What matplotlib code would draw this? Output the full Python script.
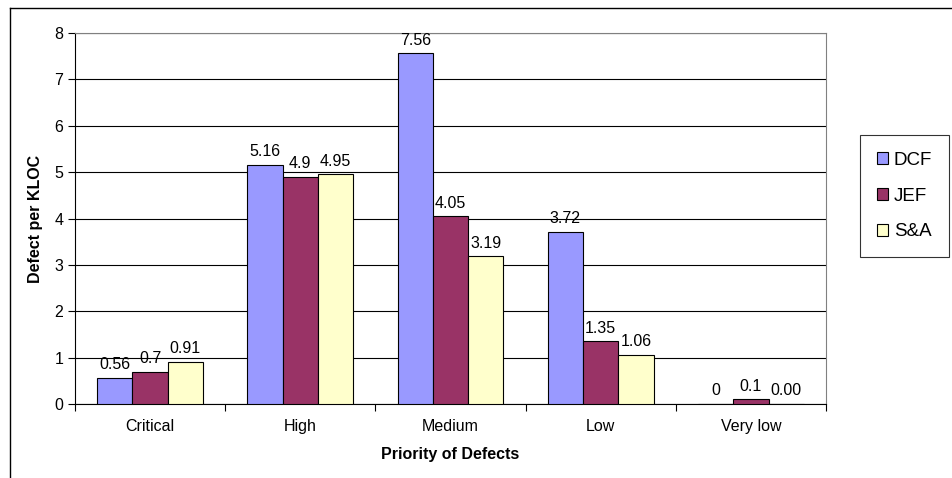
import numpy as np
import matplotlib
matplotlib.use("Agg")
import matplotlib.pyplot as plt
from matplotlib.lines import Line2D

categories = ["Critical", "High", "Medium", "Low", "Very low"]
series = ["DCF", "JEF", "S&A"]
dcf = [0.56, 5.16, 7.56, 3.72, 0.0]
jef = [0.7, 4.9, 4.05, 1.35, 0.1]
sa = [0.91, 4.95, 3.19, 1.06, 0.0]
labels_dcf = ["0.56", "5.16", "7.56", "3.72", "0"]
labels_jef = ["0.7", "4.9", "4.05", "1.35", "0.1"]
labels_sa = ["0.91", "4.95", "3.19", "1.06", "0.00"]
colors = ["#9999FF", "#993366", "#FFFFCC"]

plt.rcParams["font.family"] = ["Liberation Sans", "DejaVu Sans"]

fig = plt.figure(figsize=(9.53, 4.78), dpi=100)
ax = fig.add_axes([0.0787, 0.1548, 0.788, 0.776])

# 外枠（左と上だけ見えている）
fig.add_artist(Line2D([10 / 953, 10 / 953], [0, 1 - 8 / 478], color="black", lw=1.0,
                      transform=fig.transFigure))
fig.add_artist(Line2D([10 / 953, 1], [1 - 8 / 478, 1 - 8 / 478], color="black", lw=1.0,
                      transform=fig.transFigure))

x = np.arange(len(categories))
w = 0.235
all_vals = [dcf, jef, sa]
all_labels = [labels_dcf, labels_jef, labels_sa]
for i, (vals, labs) in enumerate(zip(all_vals, all_labels)):
    pos = x + (i - 1) * w
    bars = ax.bar(pos, vals, w, color=colors[i], edgecolor="black", linewidth=0.8,
                  label=series[i], zorder=3)
    for b, lab in zip(bars, labs):
        ax.text(b.get_x() + b.get_width() / 2, b.get_height() + 0.12, lab,
                ha="center", va="bottom", fontsize=11.5)

ax.set_xlim(-0.5, len(categories) - 0.5)
ax.set_ylim(0, 8)
ax.set_yticks(range(0, 9))
ax.set_xticks(np.arange(-0.5, len(categories), 1.0), minor=False)
ax.set_xticklabels([])
ax.set_xticks(x, minor=True)
ax.set_xticklabels(categories, minor=True)
ax.tick_params(axis="x", which="minor", length=0, pad=11, labelsize=11.5)
ax.tick_params(axis="x", which="major", length=5, direction="out")
ax.tick_params(axis="y", length=5, labelsize=11.5)
ax.grid(axis="y", color="black", linewidth=0.8, zorder=0)
for s in ax.spines.values():
    s.set_color("black")
    s.set_linewidth(0.8)
ax.spines["top"].set_color("#808080")
ax.spines["right"].set_color("#808080")

ax.set_xlabel("Priority of Defects", fontsize=11.5, fontweight="bold", labelpad=9)
ax.set_ylabel("Defect per KLOC", fontsize=11.5, fontweight="bold", labelpad=8)

leg = ax.legend(loc="center left", bbox_to_anchor=(860 / 953, 1 - 196 / 478),
                bbox_transform=fig.transFigure, frameon=True, fancybox=False,
                fontsize=13.5, labelspacing=1.0, handlelength=0.6, handleheight=0.6,
                handletextpad=0.3, borderpad=0.9, borderaxespad=0)
leg.get_frame().set_edgecolor("black")
leg.get_frame().set_linewidth(0.8)

fig.savefig("out.png", dpi=100)
